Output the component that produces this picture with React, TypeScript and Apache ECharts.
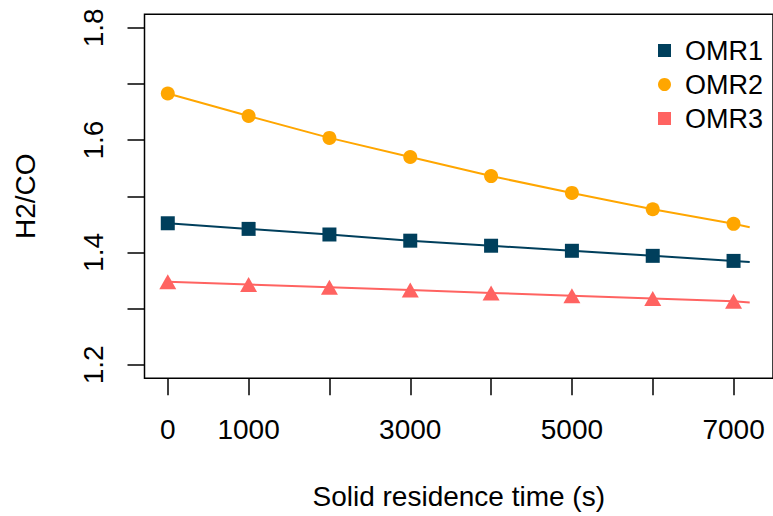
import React, { useEffect, useRef } from "react";
import * as echarts from "echarts";

// Data
const timeS = [0, 1000, 2000, 3000, 4000, 5000, 6000, 7000];
const omr1 = [1.452, 1.442, 1.432, 1.421, 1.412, 1.403, 1.394, 1.385];
const omr2 = [1.683, 1.643, 1.604, 1.570, 1.536, 1.506, 1.477, 1.451];
const omr3 = [1.348, 1.343, 1.338, 1.333, 1.328, 1.323, 1.318, 1.313];
// fitted lines continue to 7200 s
const fitEndTime = 7200;
const fitEnd = [1.383, 1.445, 1.311];

const seriesNames = ["OMR1", "OMR2", "OMR3"];
const colors = ["#003f5c", "#ffa600", "#ff6361"];
const markerSymbols = ["rect", "circle", "triangle"];
const legendIcons = ["rect", "circle", "rect"];

const xTicks = [0, 1000, 2000, 3000, 4000, 5000, 6000, 7000];
const xLabels = [0, 1000, 3000, 5000, 7000];
const yTicks = [1.2, 1.3, 1.4, 1.5, 1.6, 1.7, 1.8];
const yLabels = [1.2, 1.4, 1.6, 1.8];

const FONT = "'Liberation Sans', Arial, sans-serif";

export default function App() {
  const ref = useRef<HTMLDivElement>(null);

  useEffect(() => {
    if (!ref.current) return;
    const chart = echarts.init(ref.current, undefined, { renderer: "svg" });
    const all = [omr1, omr2, omr3];

    const series: any[] = [];
    all.forEach((vals, i) => {
      series.push({
        name: seriesNames[i] + " fit",
        type: "line",
        data: [...timeS.map((t, j) => [t, vals[j]]), [fitEndTime, fitEnd[i]]],
        showSymbol: false,
        symbol: "none",
        lineStyle: { color: colors[i], width: 2 },
        silent: true,
        z: 2,
      });
    });
    all.forEach((vals, i) => {
      series.push({
        name: seriesNames[i],
        type: "scatter",
        data: timeS.map((t, j) => [t, vals[j]]),
        symbol: markerSymbols[i],
        symbolSize: i === 2 ? [17, 15] : 14,
        itemStyle: { color: colors[i], opacity: 1 },
        z: 3,
      });
    });

    chart.setOption({
      animation: false,
      backgroundColor: "#ffffff",
      textStyle: { fontFamily: FONT },
      grid: {
        left: 144.5,
        top: 14.3,
        width: 634,
        height: 364,
        show: true,
        borderColor: "#000",
        borderWidth: 1.5,
        backgroundColor: "transparent",
      },
      legend: {
        orient: "vertical",
        left: 653,
        top: 32,
        itemWidth: 13,
        itemHeight: 13,
        itemGap: 7,
        data: seriesNames.map((n, i) => ({
          name: n,
          icon: legendIcons[i],
          itemStyle: { color: colors[i], opacity: 1 },
        })),
        textStyle: {
          fontSize: 27,
          color: "#000",
          fontFamily: FONT,
          padding: [0, 0, 0, 9],
          lineHeight: 27,
        },
        selectedMode: false,
      },
      xAxis: {
        type: "value",
        min: -288,
        max: 7488,
        name: "Solid residence time (s)",
        nameLocation: "middle",
        nameGap: 104,
        nameTextStyle: { fontSize: 28, color: "#000", fontFamily: FONT },
        axisLine: { show: false, onZero: false },
        splitLine: { show: false },
        axisTick: {
          show: true,
          length: 17,
          inside: false,
          lineStyle: { color: "#000", width: 1.5 },
          customValues: xTicks,
        },
        axisLabel: {
          fontSize: 28,
          color: "#000",
          fontFamily: FONT,
          margin: 37,
          customValues: xLabels,
          formatter: (v: number) => String(Math.round(v)),
        },
      },
      yAxis: {
        type: "value",
        min: 1.176,
        max: 1.824,
        name: "H2/CO",
        nameLocation: "middle",
        nameRotate: 90,
        nameGap: 105,
        nameTextStyle: { fontSize: 28, color: "#000", fontFamily: FONT },
        axisLine: { show: false, onZero: false },
        splitLine: { show: false },
        axisTick: {
          show: true,
          length: 17,
          inside: false,
          lineStyle: { color: "#000", width: 1.5 },
          customValues: yTicks,
        },
        axisLabel: {
          fontSize: 28,
          color: "#000",
          fontFamily: FONT,
          rotate: 90,
          margin: 37,
          customValues: yLabels,
          formatter: (v: number) => v.toFixed(1),
        },
      },
      series,
    });

    return () => chart.dispose();
  }, []);

  return (
    <div
      ref={ref}
      style={{ position: "absolute", left: 0, top: 0, width: 773, height: 516, overflow: "hidden" }}
    />
  );
}
